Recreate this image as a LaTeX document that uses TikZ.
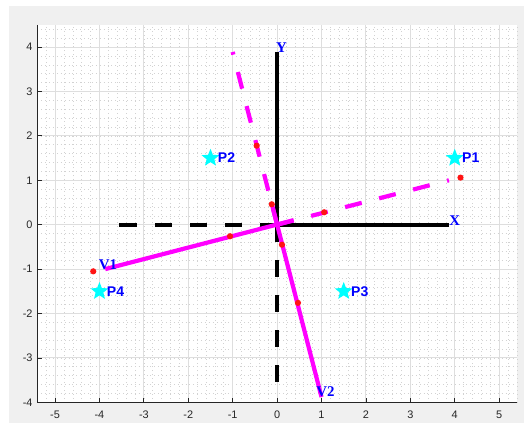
\documentclass[tikz,border=0pt]{standalone}
\usepackage{fontspec}
\setmainfont{Liberation Serif}
\setsansfont{Liberation Sans}
\usepackage{xcolor}
\usetikzlibrary{shapes.geometric}
\definecolor{figgray}{RGB}{240,240,240}
\definecolor{axgray}{RGB}{38,38,38}
\definecolor{gridgray}{RGB}{222,222,222}
\definecolor{rotmag}{RGB}{255,0,255}
\definecolor{starcyan}{RGB}{0,255,255}
\definecolor{textblue}{RGB}{0,0,255}
\definecolor{hitred}{RGB}{255,20,20}

\begin{document}
\begin{tikzpicture}[font=\sffamily,
  axline/.style={black,line width=2.5pt},
  rotline/.style={rotmag,line width=2.7pt},
  longdash/.style={dash pattern=on 11pt off 11.5pt},
  pmark/.style={star,star points=5,star point ratio=2.3,fill=starcyan,inner sep=0pt,minimum size=.42cm},
  ptext/.style={anchor=west,inner sep=.8pt,text=textblue,font=\sffamily\bfseries\fontsize{9}{10}\selectfont},
  axtext/.style={inner sep=0pt,text=textblue,font=\rmfamily\bfseries\fontsize{9.5}{10}\selectfont},
  ticktext/.style={inner sep=0pt,text=axgray,font=\sffamily\fontsize{7}{8}\selectfont},
  hit/.style={circle,fill=hitred,inner sep=0pt,minimum size=.14cm}]
\useasboundingbox (-6.24,-4.46) rectangle (5.56,5.06);
\fill[white] (-6.24,-4.46) rectangle (5.56,5.06);
\fill[figgray] (-6.04,-4.46) rectangle (5.56,4.93);
\fill[white] (-5.4,-4) rectangle (5.4,4.5);
% grid
\draw[gray!35,line width=.4pt,dash pattern=on .5pt off 2pt,step=.2] (-5.4,-4) grid (5.4,4.5);
\draw[gridgray,line width=.6pt,step=1] (-5.4,-4) grid (5.4,4.5);
\draw[axgray,line width=.5pt] (-5.4,4.5) -- (-5.4,-4) -- (5.4,-4);
\foreach \x in {-5,...,5}{
  \draw[axgray,line width=.5pt] (\x,-4) -- ++(0,.1);
  \node[ticktext,anchor=north] (tx\x) at (\x,-4.19) {\x};}
\foreach \y in {-4,...,4}{
  \draw[axgray,line width=.5pt] (-5.4,\y) -- ++(.1,0);
  \node[ticktext,anchor=east] (ty\y) at (-5.5,\y) {\y};}
% frames
\coordinate (O) at (0,0);
\coordinate (xe) at (3.87,0);
\coordinate (xn) at (-3.87,0);
\coordinate (ye) at (0,3.89);
\coordinate (yn) at (0,-3.89);
\coordinate (v1) at (-3.87,-1);
\coordinate (v1b) at (.37,.1);
\coordinate (v1n) at (3.87,1);
\coordinate (v2) at (1,-3.88);
\coordinate (v2b) at (-.12,.47);
\coordinate (v2n) at (-1,3.89);
\draw[axline] (O) -- (xe) (O) -- (ye);
\draw[axline,longdash] (O) -- (xn) (O) -- (yn);
\draw[rotline,longdash] (O) -- (v1n) (O) -- (v2n);
\draw[rotline] (v1) -- (v1b) (v2) -- (v2b);
\node[axtext] (xl) at (4,.09) {X};
\node[axtext] (yl) at (.1,3.99) {Y};
\node[axtext] (v1l) at (-3.81,-.89) {V1};
\node[axtext] (v2l) at (1.09,-3.77) {V2};
% measured points
\foreach \x/\y [count=\i] in {4.13/1.06,1.06/.28,-.46/1.78,-.12/.46,-1.06/-.26,.11/-.45,.47/-1.76,-4.14/-1.05}
  \node[hit] (h\i) at (\x,\y) {};
% targets
\foreach \n/\x/\y in {1/4/1.5,2/-1.5/1.5,3/1.5/-1.5,4/-4/-1.5}{
  \node[pmark] (s\n) at (\x,\y) {};
  \node[ptext] (p\n) at (s\n.east) {P\n};}
\end{tikzpicture}
\end{document}
